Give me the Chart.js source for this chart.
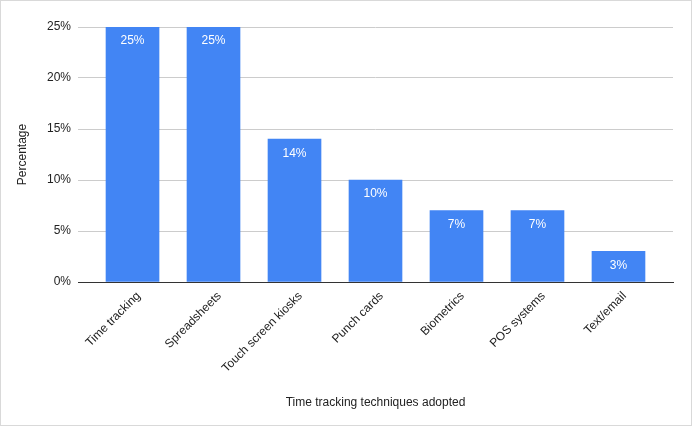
<!DOCTYPE html>
<html>
<head>
<meta charset="utf-8">
<script src="https://cdn.jsdelivr.net/npm/chart.js@4"></script>
<style>
  html, body { margin: 0; padding: 0; background: #fff; }
  #wrap { width: 692px; height: 426px; position: relative; }
</style>
</head>
<body>
<div id="wrap"><canvas id="chart"></canvas></div>
<script>
var categories = ['Time tracking', 'Spreadsheets', 'Touch screen kiosks', 'Punch cards', 'Biometrics', 'POS systems', 'Text/email'];
var percentages = [25, 25, 14, 10, 7, 7, 3];
var yTicks = [0, 5, 10, 15, 20, 25];

var barColor = '#4285f4';
var textColor = '#222222';

var points = percentages.map(function (v, i) { return { x: i, y: v }; });

var frame = {
    id: 'frame',
    afterDraw: function (chart) {
        var ctx = chart.ctx;
        ctx.save();
        ctx.strokeStyle = '#d9d9d9';
        ctx.lineWidth = 1;
        ctx.strokeRect(0.5, 0.5, chart.width - 1, chart.height - 1);
        ctx.restore();
    }
};

var barLabels = {
    id: 'barLabels',
    afterDatasetsDraw: function (chart) {
        var ctx = chart.ctx;
        var meta = chart.getDatasetMeta(0);
        ctx.save();
        ctx.fillStyle = '#ffffff';
        ctx.font = '12px "Liberation Sans", Arial, sans-serif';
        ctx.textAlign = 'center';
        ctx.textBaseline = 'middle';
        meta.data.forEach(function (bar, i) {
            ctx.fillText(percentages[i] + '%', bar.x, bar.y + 14);
        });
        ctx.restore();
    }
};

new Chart(document.getElementById('chart'), {
    type: 'bar',
    data: {
        datasets: [{
            data: points,
            backgroundColor: barColor,
            borderWidth: 0,
            barThickness: 53
        }]
    },
    options: {
        responsive: true,
        maintainAspectRatio: false,
        animation: false,
        layout: { padding: { left: 0, top: 27, right: 19, bottom: 0 } },
        plugins: {
            legend: { display: false },
            tooltip: { enabled: false }
        },
        scales: {
            x: {
                type: 'linear',
                offset: false,
                min: -0.673,
                max: 6.673,
                afterBuildTicks: function (scale) {
                    scale.ticks = categories.map(function (c, i) { return { value: i }; });
                },
                afterFit: function (scale) { scale.height = 144; },
                grid: { display: false, drawTicks: false },
                border: { display: true, color: '#333333', width: 1 },
                ticks: {
                    autoSkip: false,
                    minRotation: 45,
                    maxRotation: 45,
                    padding: 7,
                    labelOffset: 6,
                    color: textColor,
                    font: { family: '"Liberation Sans", Arial, sans-serif', size: 12 },
                    callback: function (v) { return categories[v]; }
                },
                title: {
                    display: true,
                    text: 'Time tracking techniques adopted',
                    color: textColor,
                    font: { family: '"Liberation Sans", Arial, sans-serif', size: 12 },
                    padding: { top: 4, bottom: 16 }
                }
            },
            y: {
                min: 0,
                max: 25,
                afterBuildTicks: function (scale) {
                    scale.ticks = yTicks.map(function (v) { return { value: v }; });
                },
                afterFit: function (scale) { scale.width = 78; },
                grid: { color: '#cccccc', drawTicks: false },
                border: { display: false },
                ticks: {
                    padding: 7,
                    color: textColor,
                    font: { family: '"Liberation Sans", Arial, sans-serif', size: 12 },
                    callback: function (v) { return v + '%'; }
                },
                title: {
                    display: true,
                    text: 'Percentage',
                    color: textColor,
                    font: { family: '"Liberation Sans", Arial, sans-serif', size: 12 },
                    padding: { top: 15, bottom: 4 }
                }
            }
        }
    },
    plugins: [frame, barLabels]
});
</script>
</body>
</html>
